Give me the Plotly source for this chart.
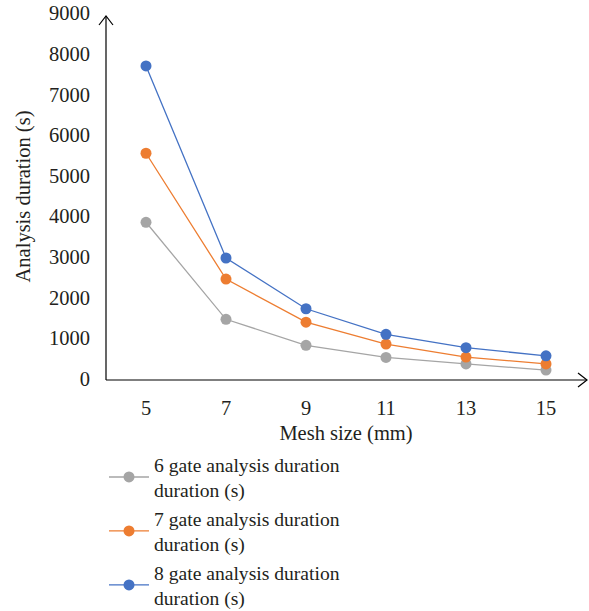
import plotly.graph_objects as go

# Mesh sizes (mm) and analysis durations (s) per gate configuration
mesh_sizes = ["5", "7", "9", "11", "13", "15"]
gate6_duration = [3850, 1460, 820, 520, 360, 210]
gate7_duration = [5550, 2450, 1390, 850, 530, 360]
gate8_duration = [7700, 2970, 1720, 1090, 760, 560]

series_names = [
    "6 gate analysis duration<br>duration (s)",
    "7 gate analysis duration<br>duration (s)",
    "8 gate analysis duration<br>duration (s)",
]
series_colors = ["#A5A5A5", "#ED7D31", "#4472C4"]
y_ticks = [0, 1000, 2000, 3000, 4000, 5000, 6000, 7000, 8000, 9000]

FONT = "Liberation Serif"
TEXT = "#231F20"
FS = 20.5
LEGEND_FS = 19.6

fig = go.Figure()
for name, values, color in zip(series_names, [gate6_duration, gate7_duration, gate8_duration], series_colors):
    fig.add_trace(go.Scatter(
        x=mesh_sizes, y=values, name=name, mode="lines+markers",
        line=dict(color=color, width=1.3),
        marker=dict(color=color, size=11),
        legendgroup=name,
    ))

# plot area geometry in pixels (for the arrowed axis lines)
L, R, T, B = 106, 586, 13, 380
W, H = R - L, B - T


def px(x):
    return (x - L) / W


def py(y):
    return (B - y) / H


shapes = [
    # y axis with open arrowhead
    dict(type="line", xref="paper", yref="paper", x0=px(106), x1=px(106), y0=py(380), y1=py(16),
         line=dict(color="#000000", width=1.2)),
    dict(type="path", xref="paper", yref="paper",
         path=f"M {px(99)} {py(25)} L {px(106)} {py(16)} L {px(113)} {py(25)}",
         line=dict(color="#000000", width=1.2)),
    # x axis with open arrowhead
    dict(type="line", xref="paper", yref="paper", x0=px(106), x1=px(587), y0=py(380), y1=py(380),
         line=dict(color="#000000", width=1.2)),
    dict(type="path", xref="paper", yref="paper",
         path=f"M {px(578)} {py(373)} L {px(587)} {py(380)} L {px(578)} {py(387)}",
         line=dict(color="#000000", width=1.2)),
]

fig.update_layout(
    width=589, height=611,
    margin=dict(l=L, r=589 - R, t=T, b=611 - B, autoexpand=False),
    paper_bgcolor="white", plot_bgcolor="white",
    font=dict(family=FONT, size=FS, color=TEXT),
    shapes=shapes,
    showlegend=True,
    legend=dict(
        x=px(104), y=py(445), xanchor="left", yanchor="top",
        font=dict(family=FONT, size=LEGEND_FS, color=TEXT),
        tracegroupgap=0, itemwidth=40,
        bgcolor="rgba(0,0,0,0)",
    ),
    xaxis=dict(
        type="category", range=[-0.5, 5.5],
        showgrid=False, zeroline=False, showline=False,
        ticks="", ticklabelstandoff=13,
        title=dict(text="Mesh size (mm)", standoff=8, font=dict(size=FS)),
    ),
    yaxis=dict(
        range=[-35, 9005], tickvals=y_ticks,
        showgrid=False, zeroline=False, showline=False,
        ticks="", ticklabelstandoff=15,
        title=dict(text="Analysis duration (s)", standoff=12, font=dict(size=FS)),
    ),
)

fig.write_html("out.html")
